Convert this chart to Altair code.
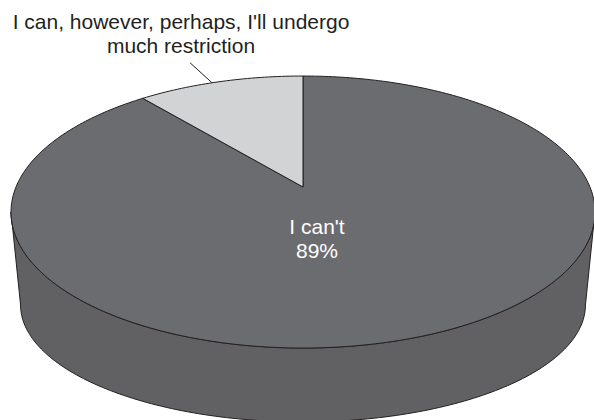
import math
import altair as alt

# ---- data ----
categories = ["I can't", "I can, however, perhaps, I'll undergo much restriction"]
values = [89, 11]
label_lines_outside = ["I can, however, perhaps, I'll undergo", "much restriction"]
top_colors = ["#6b6c70", "#d2d3d5"]
side_colors = ["#616163", "#b5b6b8"]
outline = "#231f20"

# ---- layout of the 3-D disc (perspective ellipses) ----
CX = 303.0
K = 0.184                      # perspective factor
TOP = dict(cy=187.0, A=131.4, B=287.0)
BOT = dict(cy=283.5, A=113.0, B=277.6)


def proj(theta_deg, face):
    t = math.radians(theta_deg)
    X, Z = math.sin(t), math.cos(t)
    d = 1 + K * Z
    return [CX + face["B"] * X / d, face["cy"] - face["A"] * Z / d]


def arc(t0, t1, face):
    n = max(2, int(abs(t1 - t0)) + 1)
    return [proj(t0 + (t1 - t0) * i / (n - 1), face) for i in range(n)]


total = float(sum(values))
front_lo = 90 + math.degrees(math.asin(K))
front_hi = 270 - math.degrees(math.asin(K))

side_feats, top_feats = [], []
start = 0.0
for i, v in enumerate(values):
    end = start + 360.0 * v / total
    # top face wedge
    ring = [[CX, TOP["cy"]]] + arc(start, end, TOP) + [[CX, TOP["cy"]]]
    top_feats.append({"type": "Feature",
                      "geometry": {"type": "Polygon", "coordinates": [ring]},
                      "properties": {"fill": top_colors[i], "name": categories[i]}})
    # visible side wall
    lo, hi = max(start, front_lo), min(end, front_hi)
    if hi > lo:
        ring = arc(lo, hi, TOP) + arc(hi, lo, BOT)
        ring.append(ring[0])
        side_feats.append({"type": "Feature",
                           "geometry": {"type": "Polygon", "coordinates": [ring]},
                           "properties": {"fill": side_colors[i], "name": categories[i]}})
    start = end

# leader line for the small slice label
small_mid = 360.0 * (values[0] + values[1] * 0.45) / total
p_edge = proj(small_mid, TOP)
leader = [{"type": "Feature",
           "geometry": {"type": "LineString",
                        "coordinates": [[p_edge[0] - 22, p_edge[1] - 20], p_edge]},
           "properties": {}}]

proj_def = dict(type="identity", scale=1, translate=[0, 0])

sides = alt.Chart(alt.Data(values=side_feats)).mark_geoshape(
    stroke=outline, strokeWidth=1
).encode(fill=alt.Fill("properties.fill:N", scale=None)).project(**proj_def)

tops = alt.Chart(alt.Data(values=top_feats)).mark_geoshape(
    stroke=outline, strokeWidth=1, strokeJoin="round"
).encode(fill=alt.Fill("properties.fill:N", scale=None)).project(**proj_def)

lead = alt.Chart(alt.Data(values=leader)).mark_geoshape(
    filled=False, stroke=outline, strokeWidth=1
).encode(color=alt.value(outline)).project(**proj_def)

font = "Liberation Sans"
txt_out = alt.Chart(alt.Data(values=[{"t": "\n".join(label_lines_outside)}])).mark_text(
    font=font, fontSize=21, color=outline, align="center", baseline="alphabetic",
    lineBreak="\n", lineHeight=24
).encode(text="t:N", x=alt.value(181), y=alt.value(29))

txt_in = alt.Chart(alt.Data(values=[{"t": f"{categories[0]}\n{values[0]}%"}])).mark_text(
    font=font, fontSize=21, color="white", align="center", baseline="alphabetic",
    lineBreak="\n", lineHeight=24
).encode(text="t:N", x=alt.value(317), y=alt.value(234))

chart = alt.layer(sides, tops, lead, txt_out, txt_in).properties(
    width=594, height=420, padding=0, autosize="none", background="white"
).configure_view(stroke=None)

chart.save("out.html", embed_options={"renderer": "svg", "actions": False})
